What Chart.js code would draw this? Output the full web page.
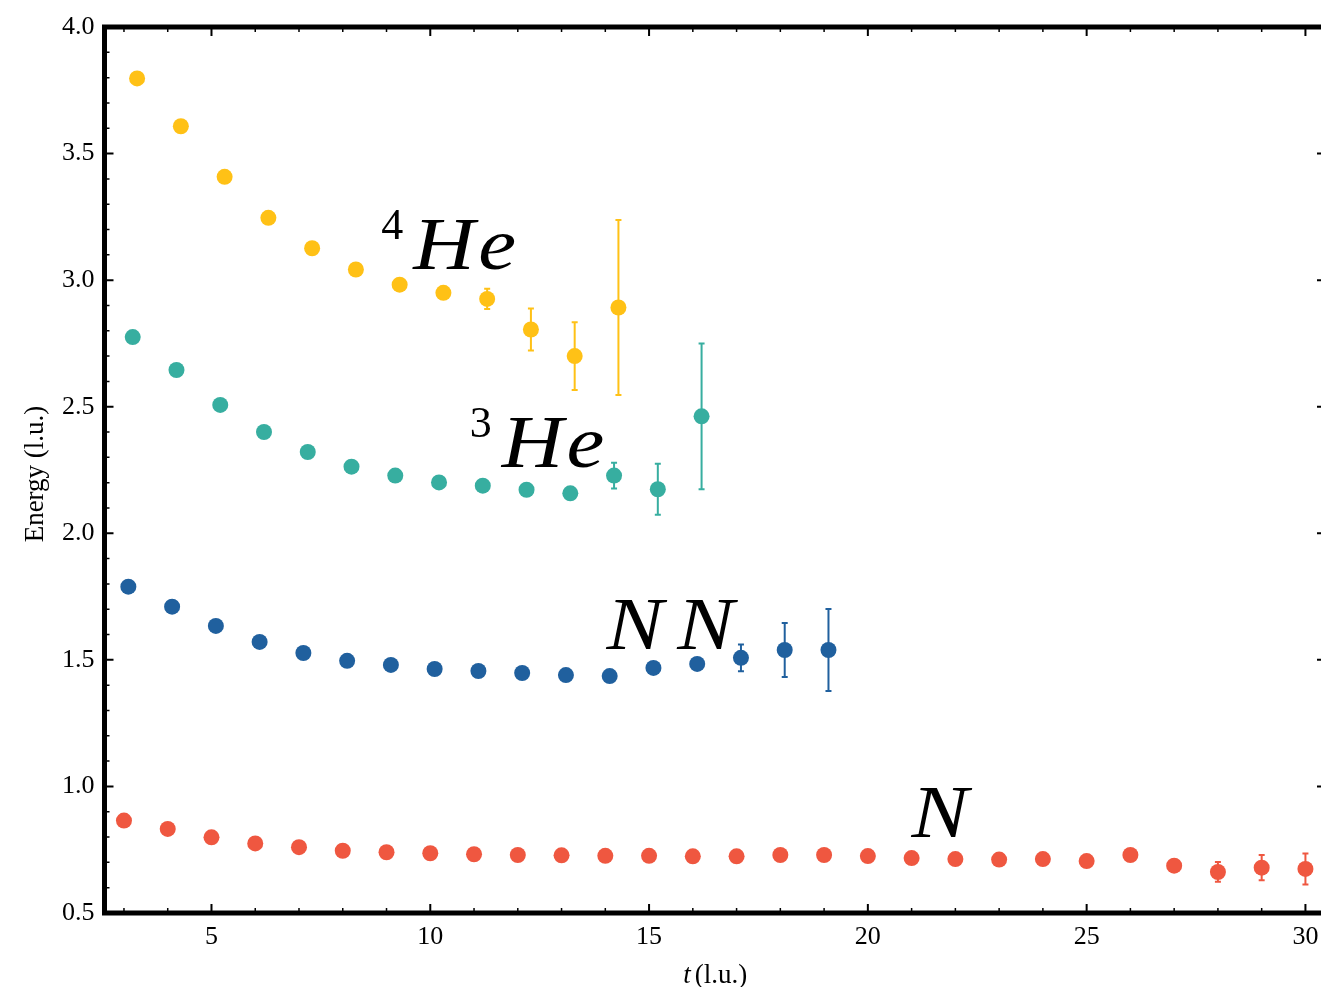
<!DOCTYPE html>
<html>
<head>
<meta charset="utf-8">
<title>Energy vs t</title>
<script src="https://cdn.jsdelivr.net/npm/chart.js@4.4.1/dist/chart.umd.min.js"></script>
<style>
    html, body { margin: 0; padding: 0; background: #fff; overflow: hidden; }
</style>
</head>
<body>
<canvas id="grafico" width="1345" height="987"></canvas>
<script>
// N
const tN = [3, 4, 5, 6, 7, 8, 9, 10, 11, 12, 13, 14, 15, 16, 17, 18, 19, 20, 21, 22, 23, 24, 25, 26, 27, 28, 29, 30];
const eN = [0.865, 0.832, 0.799, 0.775, 0.760, 0.746, 0.740, 0.736, 0.732, 0.729, 0.728, 0.726, 0.726, 0.724,
            0.724, 0.729, 0.729, 0.725, 0.717, 0.713, 0.711, 0.713, 0.705, 0.729, 0.687, 0.662, 0.679, 0.674];
const errN = [0.001, 0.001, 0.001, 0.001, 0.001, 0.002, 0.002, 0.002, 0.002, 0.003, 0.003, 0.003, 0.004, 0.004,
              0.005, 0.005, 0.006, 0.006, 0.007, 0.007, 0.008, 0.008, 0.009, 0.010, 0.012, 0.039, 0.050, 0.061];

// NN
const tNN = [3.1, 4.1, 5.1, 6.1, 7.1, 8.1, 9.1, 10.1, 11.1, 12.1, 13.1, 14.1, 15.1, 16.1, 17.1, 18.1, 19.1];
const eNN = [1.789, 1.710, 1.634, 1.571, 1.527, 1.496, 1.480, 1.464, 1.456, 1.448, 1.440, 1.436, 1.468, 1.484, 1.508, 1.539, 1.539];
const errNN = [0.001, 0.001, 0.001, 0.002, 0.002, 0.002, 0.003, 0.003, 0.004, 0.005, 0.006, 0.008, 0.012, 0.020, 0.053, 0.107, 0.162];

// 3He
const tHe3 = [3.2, 4.2, 5.2, 6.2, 7.2, 8.2, 9.2, 10.2, 11.2, 12.2, 13.2, 14.2, 15.2, 16.2];
const eHe3 = [2.775, 2.645, 2.507, 2.400, 2.321, 2.263, 2.228, 2.201, 2.188, 2.172, 2.158, 2.228, 2.174, 2.462];
const errHe3 = [0.002, 0.002, 0.003, 0.003, 0.004, 0.005, 0.006, 0.008, 0.010, 0.012, 0.015, 0.051, 0.101, 0.288];

// 4He
const tHe4 = [3.3, 4.3, 5.3, 6.3, 7.3, 8.3, 9.3, 10.3, 11.3, 12.3, 13.3, 14.3];
const eHe4 = [3.797, 3.608, 3.408, 3.246, 3.126, 3.042, 2.982, 2.950, 2.926, 2.805, 2.700, 2.892];
const errHe4 = [0.002, 0.003, 0.004, 0.005, 0.006, 0.008, 0.010, 0.015, 0.040, 0.083, 0.134, 0.346];

const xTicks = [5, 10, 15, 20, 25, 30];
const yTicks = [0.5, 1.0, 1.5, 2.0, 2.5, 3.0, 3.5, 4.0];

// text labels next to the curves, in data units
const labels = [
    { sup: '4', text: 'He', t: 8.88, e: 3.045 },
    { sup: '3', text: 'He', t: 10.90, e: 2.262 },
    { sup: '',  text: 'NN', t: 14.03, e: 1.543 },
    { sup: '',  text: 'N',  t: 21.00, e: 0.800 }
];

const FONT = "'Liberation Serif', 'Times New Roman', serif";

function pontos(ts, es) {
    return ts.map(function (t, i) { return { x: t, y: es[i] }; });
}

function serie(ts, es, errs, cor) {
    return {
        data: pontos(ts, es),
        errors: errs,
        backgroundColor: cor,
        borderColor: cor,
        borderWidth: 0,
        pointRadius: 8,
        pointHoverRadius: 8,
        showLine: false
    };
}

const errorBars = {
    id: 'errorBars',
    beforeDatasetsDraw(chart) {
        const ctx = chart.ctx;
        const y = chart.scales.y;
        chart.data.datasets.forEach(function (ds, i) {
            const meta = chart.getDatasetMeta(i);
            ctx.save();
            ctx.strokeStyle = ds.backgroundColor;
            ctx.lineWidth = 2;
            meta.data.forEach(function (pt, j) {
                const v = ds.data[j].y, err = ds.errors[j];
                const top = y.getPixelForValue(v + err);
                const bot = y.getPixelForValue(v - err);
                ctx.beginPath();
                ctx.moveTo(pt.x, top);
                ctx.lineTo(pt.x, bot);
                ctx.moveTo(pt.x - 3, top);
                ctx.lineTo(pt.x + 3, top);
                ctx.moveTo(pt.x - 3, bot);
                ctx.lineTo(pt.x + 3, bot);
                ctx.stroke();
            });
            ctx.restore();
        });
    }
};

const moldura = {
    id: 'moldura',
    afterDraw(chart) {
        const ctx = chart.ctx;
        const a = chart.chartArea;
        const x = chart.scales.x, y = chart.scales.y;
        ctx.save();
        ctx.strokeStyle = '#000';

        // inward ticks on all four sides
        function xt(v, len, w) {
            const px = x.getPixelForValue(v);
            ctx.lineWidth = w;
            ctx.beginPath();
            ctx.moveTo(px, a.bottom); ctx.lineTo(px, a.bottom - len);
            ctx.moveTo(px, a.top); ctx.lineTo(px, a.top + len);
            ctx.stroke();
        }
        function yt(v, len, w) {
            const py = y.getPixelForValue(v);
            ctx.lineWidth = w;
            ctx.beginPath();
            ctx.moveTo(a.left, py); ctx.lineTo(a.left + len, py);
            ctx.moveTo(a.right, py); ctx.lineTo(a.right - len, py);
            ctx.stroke();
        }
        for (let k = 3; k <= 30; k++) {
            if (k % 5 !== 0) xt(k, 5, 1.5);
        }
        xTicks.forEach(function (v) { xt(v, 9, 2); });
        for (let k = 6; k < 40; k++) {
            if (k % 5 !== 0) yt(k / 10, 5, 1.5);
        }
        yTicks.forEach(function (v) { yt(v, 9, 2); });

        ctx.lineWidth = 5;
        ctx.strokeRect(a.left, a.top, a.right - a.left, a.bottom - a.top);

        // axis titles
        ctx.fillStyle = '#000';
        ctx.textBaseline = 'alphabetic';
        ctx.font = 'italic 27px ' + FONT;
        const wT = ctx.measureText('t').width;
        ctx.font = '27px ' + FONT;
        const wU = ctx.measureText('(l.u.)').width;
        const cx = (a.left + a.right) / 2;
        let sx = cx - (wT + 4 + wU) / 2;
        ctx.font = 'italic 27px ' + FONT;
        ctx.textAlign = 'left';
        ctx.fillText('t', sx, 983);
        ctx.font = '27px ' + FONT;
        ctx.fillText('(l.u.)', sx + wT + 4, 983);

        ctx.save();
        ctx.translate(43, (a.top + a.bottom) / 2 + 4);
        ctx.rotate(-Math.PI / 2);
        ctx.textAlign = 'center';
        ctx.fillText('Energy (l.u.)', 0, 0);
        ctx.restore();

        // curve labels (math italic is wider than Times, so stretch a bit)
        labels.forEach(function (l) {
            let px = x.getPixelForValue(l.t);
            const py = y.getPixelForValue(l.e);
            ctx.textAlign = 'left';
            if (l.sup) {
                ctx.font = '44px ' + FONT;
                ctx.fillText(l.sup, px, py - 30);
                px += ctx.measureText(l.sup).width + 10;
            }
            ctx.save();
            ctx.translate(px, py);
            ctx.scale(1.15, 1);
            ctx.font = 'italic 74px ' + FONT;
            ctx.letterSpacing = l.text === 'He' ? '3px' : '12px';
            ctx.fillText(l.text, 0, 0);
            ctx.restore();
        });
        ctx.restore();
    }
};

const ctx = document.getElementById('grafico');

new Chart(ctx, {
    type: 'scatter',
    data: {
        datasets: [
            serie(tN, eN, errN, '#EF5740'),
            serie(tNN, eNN, errNN, '#20609E'),
            serie(tHe3, eHe3, errHe3, '#37AEA0'),
            serie(tHe4, eHe4, errHe4, '#FFC116')
        ]
    },
    options: {
        responsive: false,
        animation: false,
        layout: { padding: { top: 27, right: 19, left: 0, bottom: 0 } },
        plugins: {
            legend: { display: false },
            tooltip: { enabled: false }
        },
        scales: {
            x: {
                type: 'linear',
                min: 2.555,
                max: 30.47,
                afterBuildTicks: function (s) { s.ticks = xTicks.map(function (v) { return { value: v }; }); },
                afterFit: function (s) { s.height = 74; },
                grid: { display: false, drawTicks: false },
                border: { display: false },
                ticks: {
                    color: '#000',
                    padding: 9,
                    maxRotation: 0,
                    font: { family: FONT, size: 26 }
                }
            },
            y: {
                type: 'linear',
                min: 0.5,
                max: 4.0,
                afterBuildTicks: function (s) { s.ticks = yTicks.map(function (v) { return { value: v }; }); },
                afterFit: function (s) { s.width = 104.5; },
                grid: { display: false, drawTicks: false },
                border: { display: false },
                ticks: {
                    color: '#000',
                    padding: 10,
                    font: { family: FONT, size: 26 },
                    callback: function (v) { return v.toFixed(1); }
                }
            }
        }
    },
    plugins: [errorBars, moldura]
});
</script>
</body>
</html>
